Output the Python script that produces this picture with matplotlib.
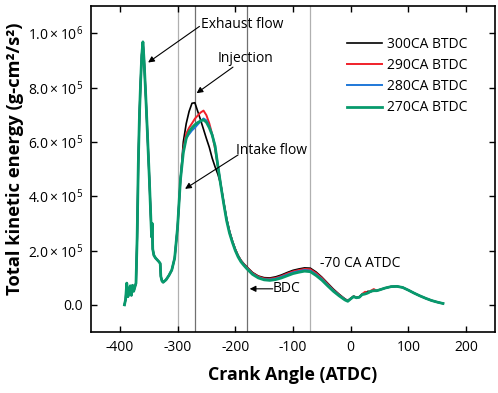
import matplotlib
matplotlib.use("Agg")
import matplotlib.pyplot as plt
import numpy as np

plt.rcParams['font.family'] = ['Open Sans', 'DejaVu Sans']
plt.rcParams['mathtext.fontset'] = 'custom'
plt.rcParams['mathtext.rm'] = 'Open Sans'
plt.rcParams['mathtext.it'] = 'Open Sans:italic'
plt.rcParams['mathtext.bf'] = 'Open Sans:bold'

# ---- data (kinetic energy in units of 1e3 g-cm2/s2) ----
# early part of the cycle: all four cases are on top of each other
angle_early = [-392, -390, -388, -386, -384, -382, -380, -378, -376, -374, -372,
               -370, -368, -366, -364, -362, -360, -358,
               -355, -352, -349, -346, -345, -344, -343, -341,
               -338, -335, -332, -330, -329, -327, -325,
               -320, -315, -310, -305, -300, -295]
ke_early = [0, 20, 80, 30, 45, 70, 35, 72, 50, 65, 80,
            250, 520, 700, 820, 920, 968, 900,
            765, 620, 470, 304, 250, 300, 205, 182,
            172, 165, 158, 152, 105, 88, 83,
            92, 108, 128, 172, 285, 460]

angle_main = [-290, -285, -280, -275, -270, -265, -260, -255, -250, -245, -240,
              -235, -230, -225, -220, -215, -210, -205, -200, -195, -190, -185, -180,
              -170, -160, -150, -140, -130, -120, -110, -100, -90, -80, -70, -60,
              -50, -40, -30, -20, -10,
              -5, 0, 5, 10, 15, 20, 25, 30, 35, 40, 45, 50,
              60, 70, 80, 90, 100, 110, 120, 130, 140, 150, 160]

ke_300 = [600, 667, 712, 742, 744, 712, 680, 646, 612, 580, 540,
          508, 480, 442, 378, 318, 272, 236, 206, 182, 164, 151, 140,
          119, 106, 100, 99, 103, 110, 119, 127, 132, 136, 135, 121,
          102, 80, 58, 39, 22,
          16, 24, 32, 28, 30, 40, 44, 50, 48, 54, 53, 56,
          62, 67, 68, 64, 54, 43, 33, 24, 16, 10, 5]
ke_290 = [575, 630, 652, 668, 685, 697, 708, 715, 698, 668, 628,
          574, 506, 442, 376, 315, 270, 234, 204, 180, 162, 149, 138,
          117, 104, 97, 96, 99, 106, 115, 123, 128, 132, 131, 117,
          99, 77, 55, 37, 20,
          15, 23, 31, 27, 28, 40, 48, 44, 52, 58, 52, 55,
          62, 67, 68, 64, 54, 43, 33, 24, 16, 10, 5]
ke_280 = [565, 615, 628, 642, 652, 664, 676, 686, 679, 657, 626,
          586, 512, 440, 374, 314, 268, 232, 202, 178, 160, 147, 135,
          114, 101, 94, 93, 96, 103, 111, 119, 124, 128, 126, 112,
          95, 73, 53, 35, 19,
          14, 22, 30, 26, 28, 38, 40, 44, 50, 52, 52, 55,
          62, 67, 68, 64, 54, 43, 33, 24, 16, 10, 5]
ke_270 = [560, 612, 638, 652, 663, 671, 677, 681, 672, 652, 625,
          585, 510, 438, 372, 310, 264, 230, 200, 176, 158, 145, 133,
          112, 99, 92, 90, 93, 99, 107, 115, 120, 124, 122, 108,
          91, 70, 50, 33, 18,
          13, 22, 30, 26, 28, 38, 40, 44, 50, 52, 52, 55,
          62, 67, 68, 64, 54, 43, 33, 24, 16, 10, 5]

series_labels = ['300CA BTDC', '290CA BTDC', '280CA BTDC', '270CA BTDC']
series_values = [ke_300, ke_290, ke_280, ke_270]
series_colors = ['#000000', '#f0202a', '#1f78d8', '#079a6c']
series_widths = [1.2, 1.4, 1.4, 2.0]

marker_angles = [-300, -270, -180, -70]
marker_colors = ['#b0b0b0', '#707070', '#707070', '#b0b0b0']

y_ticks = [0, 2e5, 4e5, 6e5, 8e5, 1e6]
y_ticklabels = ['0.0', '2.0\u2009×\u200910$^{5}$', '4.0\u2009×\u200910$^{5}$',
                '6.0\u2009×\u200910$^{5}$', '8.0\u2009×\u200910$^{5}$', '1.0\u2009×\u200910$^{6}$']
x_ticks = [-400, -300, -200, -100, 0, 100, 200]

fig = plt.figure(figsize=(4.98, 3.93), dpi=100)
ax = fig.add_axes([0.1827, 0.1552, 0.8112, 0.8295])

for x, c in zip(marker_angles, marker_colors):
    ax.axvline(x, color=c, lw=0.9, zorder=1)

for lab, vals, c, w in zip(series_labels, series_values, series_colors, series_widths):
    xs = np.array(angle_early + angle_main)
    ys = np.array(ke_early + vals) * 1e3
    ax.plot(xs, ys, color=c, lw=w, label=lab, zorder=3)

ax.set_xlim(-450, 250)
ax.set_ylim(-1e5, 1.1e6)
ax.set_xticks(x_ticks)
ax.set_xticklabels([str(t) for t in x_ticks])
ax.set_yticks(y_ticks)
ax.set_yticklabels(y_ticklabels)
ax.tick_params(direction='in', length=4, width=1, top=True, right=True,
               labelsize=10, pad=6)
for s in ax.spines.values():
    s.set_linewidth(1.2)

ax.set_xlabel('Crank Angle (ATDC)', fontsize=12.8, fontweight='bold', labelpad=8)
ax.set_ylabel('Total kinetic energy (g-cm²/s²)', fontsize=13.2, fontweight='bold')
ax.yaxis.set_label_coords(-0.165, 0.53)

# annotations
arrow_kw = dict(arrowstyle='-|>', color='black', lw=0.8, mutation_scale=9,
                shrinkA=0, shrinkB=0)
ax.annotate('', xy=(-351, 892e3), xytext=(-262, 1.025e6), arrowprops=arrow_kw)
ax.text(-259, 1.032e6, 'Exhaust flow', fontsize=10, va='center', ha='left')
ax.annotate('', xy=(-267, 779e3), xytext=(-204, 875e3), arrowprops=arrow_kw)
ax.text(-230, 907e3, 'Injection', fontsize=10, va='center', ha='left')
ax.annotate('', xy=(-287, 427e3), xytext=(-195, 552e3), arrowprops=arrow_kw)
ax.text(-199, 568e3, 'Intake flow', fontsize=10, va='center', ha='left')
ax.text(-54, 151e3, '-70 CA ATDC', fontsize=10, va='center', ha='left')
ax.annotate('', xy=(-175, 59e3), xytext=(-135, 59e3), arrowprops=arrow_kw)
ax.text(-135, 59e3, 'BDC', fontsize=10, va='center', ha='left')

ax.legend(loc='upper left', bbox_to_anchor=(0.634, 0.906), frameon=False,
          fontsize=10, handlelength=2.5, handletextpad=0.4, labelspacing=0.45,
          borderpad=0, borderaxespad=0)

plt.savefig('out.png', dpi=100)
